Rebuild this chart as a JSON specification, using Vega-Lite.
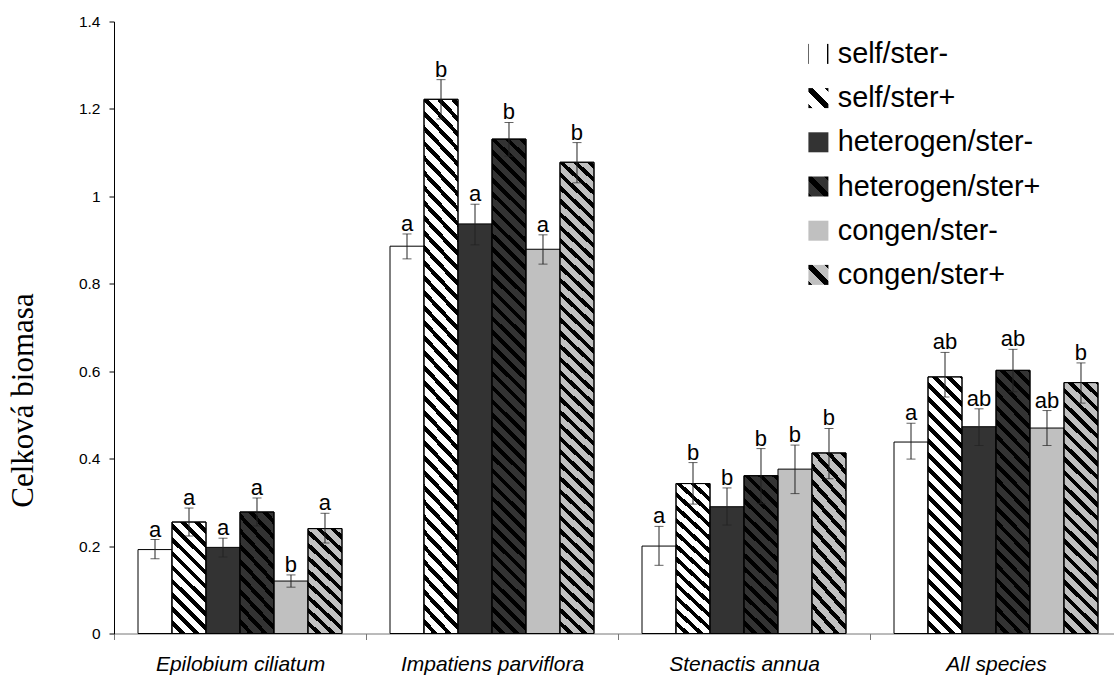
{
  "$schema": "https://vega.github.io/schema/vega-lite/v6.json",
  "width": 1000,
  "height": 612,
  "autosize": {"type": "none"},
  "padding": {"left": 114, "top": 21.5, "right": 0, "bottom": 41.5},
  "background": "white",
  "config": {"font": "Liberation Sans", "view": {"stroke": null}},
  "data": {"values": [
    {"species": "Epilobium ciliatum", "treatment": "self/ster-", "value": 0.192, "lo": 0.171, "hi": 0.215, "sig": "a"},
    {"species": "Epilobium ciliatum", "treatment": "self/ster+", "value": 0.255, "lo": 0.223, "hi": 0.287, "sig": "a"},
    {"species": "Epilobium ciliatum", "treatment": "heterogen/ster-", "value": 0.197, "lo": 0.175, "hi": 0.218, "sig": "a"},
    {"species": "Epilobium ciliatum", "treatment": "heterogen/ster+", "value": 0.278, "lo": 0.246, "hi": 0.310, "sig": "a"},
    {"species": "Epilobium ciliatum", "treatment": "congen/ster-", "value": 0.120, "lo": 0.106, "hi": 0.134, "sig": "b"},
    {"species": "Epilobium ciliatum", "treatment": "congen/ster+", "value": 0.240, "lo": 0.207, "hi": 0.275, "sig": "a"},
    {"species": "Impatiens parviflora", "treatment": "self/ster-", "value": 0.886, "lo": 0.857, "hi": 0.914, "sig": "a"},
    {"species": "Impatiens parviflora", "treatment": "self/ster+", "value": 1.222, "lo": 1.177, "hi": 1.267, "sig": "b"},
    {"species": "Impatiens parviflora", "treatment": "heterogen/ster-", "value": 0.937, "lo": 0.889, "hi": 0.982, "sig": "a"},
    {"species": "Impatiens parviflora", "treatment": "heterogen/ster+", "value": 1.131, "lo": 1.092, "hi": 1.169, "sig": "b"},
    {"species": "Impatiens parviflora", "treatment": "congen/ster-", "value": 0.879, "lo": 0.845, "hi": 0.912, "sig": "a"},
    {"species": "Impatiens parviflora", "treatment": "congen/ster+", "value": 1.078, "lo": 1.031, "hi": 1.123, "sig": "b"},
    {"species": "Stenactis annua", "treatment": "self/ster-", "value": 0.200, "lo": 0.156, "hi": 0.245, "sig": "a"},
    {"species": "Stenactis annua", "treatment": "self/ster+", "value": 0.343, "lo": 0.296, "hi": 0.391, "sig": "b"},
    {"species": "Stenactis annua", "treatment": "heterogen/ster-", "value": 0.290, "lo": 0.248, "hi": 0.333, "sig": "b"},
    {"species": "Stenactis annua", "treatment": "heterogen/ster+", "value": 0.361, "lo": 0.297, "hi": 0.423, "sig": "b"},
    {"species": "Stenactis annua", "treatment": "congen/ster-", "value": 0.376, "lo": 0.320, "hi": 0.431, "sig": "b"},
    {"species": "Stenactis annua", "treatment": "congen/ster+", "value": 0.413, "lo": 0.354, "hi": 0.469, "sig": "b"},
    {"species": "All species", "treatment": "self/ster-", "value": 0.438, "lo": 0.399, "hi": 0.481, "sig": "a"},
    {"species": "All species", "treatment": "self/ster+", "value": 0.587, "lo": 0.541, "hi": 0.643, "sig": "ab"},
    {"species": "All species", "treatment": "heterogen/ster-", "value": 0.473, "lo": 0.430, "hi": 0.514, "sig": "ab"},
    {"species": "All species", "treatment": "heterogen/ster+", "value": 0.602, "lo": 0.553, "hi": 0.650, "sig": "ab"},
    {"species": "All species", "treatment": "congen/ster-", "value": 0.470, "lo": 0.430, "hi": 0.510, "sig": "ab"},
    {"species": "All species", "treatment": "congen/ster+", "value": 0.574, "lo": 0.527, "hi": 0.619, "sig": "b"}
  ]},
  "encoding": {
    "x": {
      "field": "species", "type": "nominal",
      "sort": ["Epilobium ciliatum", "Impatiens parviflora", "Stenactis annua", "All species"],
      "scale": {"type": "band", "domain": ["Epilobium ciliatum", "Impatiens parviflora", "Stenactis annua", "All species"], "range": [0, 1008], "paddingInner": 0, "paddingOuter": 0},
      "axis": {"title": null, "tickBand": "extent", "tickSize": 6, "labelPadding": 14, "labelFontSize": 21, "labelFontStyle": "italic", "labelFont": "Liberation Sans", "labelColor": "#000", "labelAngle": 0, "labelLimit": 500, "domainColor": "#777", "tickColor": "#777", "grid": false}
    },
    "xOffset": {
      "field": "treatment", "type": "nominal", "sort": null,
      "scale": {"type": "band", "domain": ["self/ster-", "self/ster+", "heterogen/ster-", "heterogen/ster+", "congen/ster-", "congen/ster+"], "paddingInner": 0, "paddingOuter": 0.706}
    }
  },
  "layer": [
    {
      "mark": {"type": "bar", "stroke": "#000", "strokeWidth": 1},
      "encoding": {
        "y": {"field": "value", "type": "quantitative",
          "scale": {"domain": [0, 1.4], "nice": false, "zero": true},
          "axis": {"values": [0, 0.2, 0.4, 0.6, 0.8, 1, 1.2, 1.4], "format": "~g", "tickSize": 5, "labelPadding": 9, "labelFontSize": 15.5, "labelFont": "Liberation Sans", "labelColor": "#000", "domainColor": "#000", "tickColor": "#000", "grid": false,
            "title": "Celková biomasa", "titleFont": "Liberation Serif", "titleFontSize": 31, "titleFontWeight": "normal", "titleColor": "#000", "titleAngle": 270, "titleAlign": "center", "titleBaseline": "alphabetic", "titleX": -81.5, "titleY": 378.5}},
        "fill": {"field": "treatment", "type": "nominal", "legend": null,
          "scale": {"domain": ["congen/ster+", "congen/ster-", "heterogen/ster+", "heterogen/ster-", "self/ster+", "self/ster-"], "range": ["#c0c0c0", "#c0c0c0", "#333333", "#333333", "#ffffff", "#ffffff"]}}
      }
    },
    {
      "mark": {"type": "point", "filled": true, "opacity": 0, "stroke": "#000", "strokeWidth": 1,
        "fill": {"expr": "datum.value === 'self/ster+' ? {gradient: 'linear', x1: 0, y1: 1, x2: 1, y2: 0, stops: [{offset: 0, color: '#000'}, {offset: 0.1, color: '#000'}, {offset: 0.1, color: '#fff'}, {offset: 0.4, color: '#fff'}, {offset: 0.4, color: '#000'}, {offset: 0.6, color: '#000'}, {offset: 0.6, color: '#fff'}, {offset: 0.9, color: '#fff'}, {offset: 0.9, color: '#000'}, {offset: 1, color: '#000'}]} : datum.value === 'heterogen/ster+' ? {gradient: 'linear', x1: 0, y1: 1, x2: 1, y2: 0, stops: [{offset: 0, color: '#000'}, {offset: 0.1, color: '#000'}, {offset: 0.1, color: '#333'}, {offset: 0.4, color: '#333'}, {offset: 0.4, color: '#000'}, {offset: 0.6, color: '#000'}, {offset: 0.6, color: '#333'}, {offset: 0.9, color: '#333'}, {offset: 0.9, color: '#000'}, {offset: 1, color: '#000'}]} : datum.value === 'congen/ster+' ? {gradient: 'linear', x1: 0, y1: 1, x2: 1, y2: 0, stops: [{offset: 0, color: '#000'}, {offset: 0.1, color: '#000'}, {offset: 0.1, color: '#c0c0c0'}, {offset: 0.4, color: '#c0c0c0'}, {offset: 0.4, color: '#000'}, {offset: 0.6, color: '#000'}, {offset: 0.6, color: '#c0c0c0'}, {offset: 0.9, color: '#c0c0c0'}, {offset: 0.9, color: '#000'}, {offset: 1, color: '#000'}]} : datum.value === 'self/ster-' ? {gradient: 'linear', x1: 0, y1: 0, x2: 1, y2: 0.0001, stops: [{offset: 0, color: '#000'}, {offset: 0.05, color: '#000'}, {offset: 0.05, color: '#fff'}, {offset: 0.95, color: '#fff'}, {offset: 0.95, color: '#000'}, {offset: 1, color: '#000'}]} : datum.value === 'heterogen/ster-' ? '#333333' : '#c0c0c0'"}},
      "encoding": {
        "y": {"field": "value", "type": "quantitative"},
        "shape": {"field": "treatment", "type": "nominal",
          "scale": {"domain": ["self/ster-", "self/ster+", "heterogen/ster-", "heterogen/ster+", "congen/ster-", "congen/ster+"], "range": ["square", "square", "square", "square", "square", "square"]},
          "legend": {"title": null, "orient": "none", "legendX": 690, "legendY": 18, "padding": 0, "symbolType": "square", "symbolSize": 400, "symbolStrokeColor": "#000", "symbolStrokeWidth": 1, "symbolOpacity": 1, "labelFontSize": 28.8, "labelFont": "Liberation Sans", "labelColor": "#000", "labelOffset": 5, "rowPadding": 14.2, "labelLimit": 400,
            "encode": {"symbols": {"stroke": {"value": "#000"}, "strokeWidth": {"value": 1}}}}
        }
      }
    },
    {
      "transform": [{"filter": {"and": [{"field": "species", "equal": "Epilobium ciliatum"}, {"field": "treatment", "oneOf": ["self/ster+", "heterogen/ster+", "congen/ster+"]}]}}],
      "mark": {"type": "bar", "stroke": "#000", "strokeWidth": 1, "fill": {"gradient": "linear", "x1": 0, "y1": 1, "x2": 0.4125, "y2": -0.3668, "stops": [
        {"offset": 0.05, "color": "transparent"}, {"offset": 0.05, "color": "#000"}, {"offset": 0.0833, "color": "#000"},
        {"offset": 0.0833, "color": "transparent"}, {"offset": 0.1333, "color": "transparent"}, {"offset": 0.1333, "color": "#000"}, {"offset": 0.1667, "color": "#000"},
        {"offset": 0.1667, "color": "transparent"}, {"offset": 0.2167, "color": "transparent"}, {"offset": 0.2167, "color": "#000"}, {"offset": 0.25, "color": "#000"},
        {"offset": 0.25, "color": "transparent"}, {"offset": 0.3, "color": "transparent"}, {"offset": 0.3, "color": "#000"}, {"offset": 0.3333, "color": "#000"},
        {"offset": 0.3333, "color": "transparent"}, {"offset": 0.3833, "color": "transparent"}, {"offset": 0.3833, "color": "#000"}, {"offset": 0.4167, "color": "#000"},
        {"offset": 0.4167, "color": "transparent"}, {"offset": 0.4667, "color": "transparent"}, {"offset": 0.4667, "color": "#000"}, {"offset": 0.5, "color": "#000"},
        {"offset": 0.5, "color": "transparent"}, {"offset": 0.55, "color": "transparent"}, {"offset": 0.55, "color": "#000"}, {"offset": 0.5833, "color": "#000"},
        {"offset": 0.5833, "color": "transparent"}, {"offset": 0.6333, "color": "transparent"}, {"offset": 0.6333, "color": "#000"}, {"offset": 0.6667, "color": "#000"},
        {"offset": 0.6667, "color": "transparent"}, {"offset": 0.7167, "color": "transparent"}, {"offset": 0.7167, "color": "#000"}, {"offset": 0.75, "color": "#000"},
        {"offset": 0.75, "color": "transparent"}, {"offset": 0.8, "color": "transparent"}, {"offset": 0.8, "color": "#000"}, {"offset": 0.8333, "color": "#000"},
        {"offset": 0.8333, "color": "transparent"}, {"offset": 0.8833, "color": "transparent"}, {"offset": 0.8833, "color": "#000"}, {"offset": 0.9167, "color": "#000"},
        {"offset": 0.9167, "color": "transparent"}, {"offset": 0.9667, "color": "transparent"}, {"offset": 0.9667, "color": "#000"}, {"offset": 1, "color": "#000"}
      ]}},
      "encoding": {"y": {"field": "value", "type": "quantitative"}}
    },
    {
      "transform": [{"filter": {"and": [{"field": "species", "equal": "Impatiens parviflora"}, {"field": "treatment", "oneOf": ["self/ster+", "heterogen/ster+", "congen/ster+"]}]}}],
      "mark": {"type": "bar", "stroke": "#000", "strokeWidth": 1, "fill": {"gradient": "linear", "x1": 0, "y1": 1, "x2": 0.07581, "y2": -0.11485, "stops": [
        {"offset": 0.015, "color": "transparent"}, {"offset": 0.015, "color": "#000"}, {"offset": 0.025, "color": "#000"},
        {"offset": 0.025, "color": "transparent"}, {"offset": 0.04, "color": "transparent"}, {"offset": 0.04, "color": "#000"}, {"offset": 0.05, "color": "#000"},
        {"offset": 0.05, "color": "transparent"}, {"offset": 0.065, "color": "transparent"}, {"offset": 0.065, "color": "#000"}, {"offset": 0.075, "color": "#000"},
        {"offset": 0.075, "color": "transparent"}, {"offset": 0.09, "color": "transparent"}, {"offset": 0.09, "color": "#000"}, {"offset": 0.1, "color": "#000"},
        {"offset": 0.1, "color": "transparent"}, {"offset": 0.115, "color": "transparent"}, {"offset": 0.115, "color": "#000"}, {"offset": 0.125, "color": "#000"},
        {"offset": 0.125, "color": "transparent"}, {"offset": 0.14, "color": "transparent"}, {"offset": 0.14, "color": "#000"}, {"offset": 0.15, "color": "#000"},
        {"offset": 0.15, "color": "transparent"}, {"offset": 0.165, "color": "transparent"}, {"offset": 0.165, "color": "#000"}, {"offset": 0.175, "color": "#000"},
        {"offset": 0.175, "color": "transparent"}, {"offset": 0.19, "color": "transparent"}, {"offset": 0.19, "color": "#000"}, {"offset": 0.2, "color": "#000"},
        {"offset": 0.2, "color": "transparent"}, {"offset": 0.215, "color": "transparent"}, {"offset": 0.215, "color": "#000"}, {"offset": 0.225, "color": "#000"},
        {"offset": 0.225, "color": "transparent"}, {"offset": 0.24, "color": "transparent"}, {"offset": 0.24, "color": "#000"}, {"offset": 0.25, "color": "#000"},
        {"offset": 0.25, "color": "transparent"}, {"offset": 0.265, "color": "transparent"}, {"offset": 0.265, "color": "#000"}, {"offset": 0.275, "color": "#000"},
        {"offset": 0.275, "color": "transparent"}, {"offset": 0.29, "color": "transparent"}, {"offset": 0.29, "color": "#000"}, {"offset": 0.3, "color": "#000"},
        {"offset": 0.3, "color": "transparent"}, {"offset": 0.315, "color": "transparent"}, {"offset": 0.315, "color": "#000"}, {"offset": 0.325, "color": "#000"},
        {"offset": 0.325, "color": "transparent"}, {"offset": 0.34, "color": "transparent"}, {"offset": 0.34, "color": "#000"}, {"offset": 0.35, "color": "#000"},
        {"offset": 0.35, "color": "transparent"}, {"offset": 0.365, "color": "transparent"}, {"offset": 0.365, "color": "#000"}, {"offset": 0.375, "color": "#000"},
        {"offset": 0.375, "color": "transparent"}, {"offset": 0.39, "color": "transparent"}, {"offset": 0.39, "color": "#000"}, {"offset": 0.4, "color": "#000"},
        {"offset": 0.4, "color": "transparent"}, {"offset": 0.415, "color": "transparent"}, {"offset": 0.415, "color": "#000"}, {"offset": 0.425, "color": "#000"},
        {"offset": 0.425, "color": "transparent"}, {"offset": 0.44, "color": "transparent"}, {"offset": 0.44, "color": "#000"}, {"offset": 0.45, "color": "#000"},
        {"offset": 0.45, "color": "transparent"}, {"offset": 0.465, "color": "transparent"}, {"offset": 0.465, "color": "#000"}, {"offset": 0.475, "color": "#000"},
        {"offset": 0.475, "color": "transparent"}, {"offset": 0.49, "color": "transparent"}, {"offset": 0.49, "color": "#000"}, {"offset": 0.5, "color": "#000"},
        {"offset": 0.5, "color": "transparent"}, {"offset": 0.515, "color": "transparent"}, {"offset": 0.515, "color": "#000"}, {"offset": 0.525, "color": "#000"},
        {"offset": 0.525, "color": "transparent"}, {"offset": 0.54, "color": "transparent"}, {"offset": 0.54, "color": "#000"}, {"offset": 0.55, "color": "#000"},
        {"offset": 0.55, "color": "transparent"}, {"offset": 0.565, "color": "transparent"}, {"offset": 0.565, "color": "#000"}, {"offset": 0.575, "color": "#000"},
        {"offset": 0.575, "color": "transparent"}, {"offset": 0.59, "color": "transparent"}, {"offset": 0.59, "color": "#000"}, {"offset": 0.6, "color": "#000"},
        {"offset": 0.6, "color": "transparent"}, {"offset": 0.615, "color": "transparent"}, {"offset": 0.615, "color": "#000"}, {"offset": 0.625, "color": "#000"},
        {"offset": 0.625, "color": "transparent"}, {"offset": 0.64, "color": "transparent"}, {"offset": 0.64, "color": "#000"}, {"offset": 0.65, "color": "#000"},
        {"offset": 0.65, "color": "transparent"}, {"offset": 0.665, "color": "transparent"}, {"offset": 0.665, "color": "#000"}, {"offset": 0.675, "color": "#000"},
        {"offset": 0.675, "color": "transparent"}, {"offset": 0.69, "color": "transparent"}, {"offset": 0.69, "color": "#000"}, {"offset": 0.7, "color": "#000"},
        {"offset": 0.7, "color": "transparent"}, {"offset": 0.715, "color": "transparent"}, {"offset": 0.715, "color": "#000"}, {"offset": 0.725, "color": "#000"},
        {"offset": 0.725, "color": "transparent"}, {"offset": 0.74, "color": "transparent"}, {"offset": 0.74, "color": "#000"}, {"offset": 0.75, "color": "#000"},
        {"offset": 0.75, "color": "transparent"}, {"offset": 0.765, "color": "transparent"}, {"offset": 0.765, "color": "#000"}, {"offset": 0.775, "color": "#000"},
        {"offset": 0.775, "color": "transparent"}, {"offset": 0.79, "color": "transparent"}, {"offset": 0.79, "color": "#000"}, {"offset": 0.8, "color": "#000"},
        {"offset": 0.8, "color": "transparent"}, {"offset": 0.815, "color": "transparent"}, {"offset": 0.815, "color": "#000"}, {"offset": 0.825, "color": "#000"},
        {"offset": 0.825, "color": "transparent"}, {"offset": 0.84, "color": "transparent"}, {"offset": 0.84, "color": "#000"}, {"offset": 0.85, "color": "#000"},
        {"offset": 0.85, "color": "transparent"}, {"offset": 0.865, "color": "transparent"}, {"offset": 0.865, "color": "#000"}, {"offset": 0.875, "color": "#000"},
        {"offset": 0.875, "color": "transparent"}, {"offset": 0.89, "color": "transparent"}, {"offset": 0.89, "color": "#000"}, {"offset": 0.9, "color": "#000"},
        {"offset": 0.9, "color": "transparent"}, {"offset": 0.915, "color": "transparent"}, {"offset": 0.915, "color": "#000"}, {"offset": 0.925, "color": "#000"},
        {"offset": 0.925, "color": "transparent"}, {"offset": 0.94, "color": "transparent"}, {"offset": 0.94, "color": "#000"}, {"offset": 0.95, "color": "#000"},
        {"offset": 0.95, "color": "transparent"}, {"offset": 0.965, "color": "transparent"}, {"offset": 0.965, "color": "#000"}, {"offset": 0.975, "color": "#000"},
        {"offset": 0.975, "color": "transparent"}
      ]}},
      "encoding": {"y": {"field": "value", "type": "quantitative"}}
    },
    {
      "transform": [{"filter": {"and": [{"field": "species", "equal": "Stenactis annua"}, {"field": "treatment", "oneOf": ["self/ster+", "heterogen/ster+", "congen/ster+"]}]}}],
      "mark": {"type": "bar", "stroke": "#000", "strokeWidth": 1, "fill": {"gradient": "linear", "x1": 0, "y1": 1, "x2": 0.2755, "y2": -0.3188, "stops": [
        {"offset": 0.0375, "color": "transparent"}, {"offset": 0.0375, "color": "#000"}, {"offset": 0.0625, "color": "#000"},
        {"offset": 0.0625, "color": "transparent"}, {"offset": 0.1, "color": "transparent"}, {"offset": 0.1, "color": "#000"}, {"offset": 0.125, "color": "#000"},
        {"offset": 0.125, "color": "transparent"}, {"offset": 0.1625, "color": "transparent"}, {"offset": 0.1625, "color": "#000"}, {"offset": 0.1875, "color": "#000"},
        {"offset": 0.1875, "color": "transparent"}, {"offset": 0.225, "color": "transparent"}, {"offset": 0.225, "color": "#000"}, {"offset": 0.25, "color": "#000"},
        {"offset": 0.25, "color": "transparent"}, {"offset": 0.2875, "color": "transparent"}, {"offset": 0.2875, "color": "#000"}, {"offset": 0.3125, "color": "#000"},
        {"offset": 0.3125, "color": "transparent"}, {"offset": 0.35, "color": "transparent"}, {"offset": 0.35, "color": "#000"}, {"offset": 0.375, "color": "#000"},
        {"offset": 0.375, "color": "transparent"}, {"offset": 0.4125, "color": "transparent"}, {"offset": 0.4125, "color": "#000"}, {"offset": 0.4375, "color": "#000"},
        {"offset": 0.4375, "color": "transparent"}, {"offset": 0.475, "color": "transparent"}, {"offset": 0.475, "color": "#000"}, {"offset": 0.5, "color": "#000"},
        {"offset": 0.5, "color": "transparent"}, {"offset": 0.5375, "color": "transparent"}, {"offset": 0.5375, "color": "#000"}, {"offset": 0.5625, "color": "#000"},
        {"offset": 0.5625, "color": "transparent"}, {"offset": 0.6, "color": "transparent"}, {"offset": 0.6, "color": "#000"}, {"offset": 0.625, "color": "#000"},
        {"offset": 0.625, "color": "transparent"}, {"offset": 0.6625, "color": "transparent"}, {"offset": 0.6625, "color": "#000"}, {"offset": 0.6875, "color": "#000"},
        {"offset": 0.6875, "color": "transparent"}, {"offset": 0.725, "color": "transparent"}, {"offset": 0.725, "color": "#000"}, {"offset": 0.75, "color": "#000"},
        {"offset": 0.75, "color": "transparent"}, {"offset": 0.7875, "color": "transparent"}, {"offset": 0.7875, "color": "#000"}, {"offset": 0.8125, "color": "#000"},
        {"offset": 0.8125, "color": "transparent"}, {"offset": 0.85, "color": "transparent"}, {"offset": 0.85, "color": "#000"}, {"offset": 0.875, "color": "#000"},
        {"offset": 0.875, "color": "transparent"}, {"offset": 0.9125, "color": "transparent"}, {"offset": 0.9125, "color": "#000"}, {"offset": 0.9375, "color": "#000"},
        {"offset": 0.9375, "color": "transparent"}
      ]}},
      "encoding": {"y": {"field": "value", "type": "quantitative"}}
    },
    {
      "transform": [{"filter": {"and": [{"field": "species", "equal": "All species"}, {"field": "treatment", "oneOf": ["self/ster+", "heterogen/ster+", "congen/ster+"]}]}}],
      "mark": {"type": "bar", "stroke": "#000", "strokeWidth": 1, "fill": {"gradient": "linear", "x1": 0, "y1": 1, "x2": 0.17701, "y2": -0.3382, "stops": [
        {"offset": 0.024, "color": "transparent"}, {"offset": 0.024, "color": "#000"}, {"offset": 0.04, "color": "#000"},
        {"offset": 0.04, "color": "transparent"}, {"offset": 0.064, "color": "transparent"}, {"offset": 0.064, "color": "#000"}, {"offset": 0.08, "color": "#000"},
        {"offset": 0.08, "color": "transparent"}, {"offset": 0.104, "color": "transparent"}, {"offset": 0.104, "color": "#000"}, {"offset": 0.12, "color": "#000"},
        {"offset": 0.12, "color": "transparent"}, {"offset": 0.144, "color": "transparent"}, {"offset": 0.144, "color": "#000"}, {"offset": 0.16, "color": "#000"},
        {"offset": 0.16, "color": "transparent"}, {"offset": 0.184, "color": "transparent"}, {"offset": 0.184, "color": "#000"}, {"offset": 0.2, "color": "#000"},
        {"offset": 0.2, "color": "transparent"}, {"offset": 0.224, "color": "transparent"}, {"offset": 0.224, "color": "#000"}, {"offset": 0.24, "color": "#000"},
        {"offset": 0.24, "color": "transparent"}, {"offset": 0.264, "color": "transparent"}, {"offset": 0.264, "color": "#000"}, {"offset": 0.28, "color": "#000"},
        {"offset": 0.28, "color": "transparent"}, {"offset": 0.304, "color": "transparent"}, {"offset": 0.304, "color": "#000"}, {"offset": 0.32, "color": "#000"},
        {"offset": 0.32, "color": "transparent"}, {"offset": 0.344, "color": "transparent"}, {"offset": 0.344, "color": "#000"}, {"offset": 0.36, "color": "#000"},
        {"offset": 0.36, "color": "transparent"}, {"offset": 0.384, "color": "transparent"}, {"offset": 0.384, "color": "#000"}, {"offset": 0.4, "color": "#000"},
        {"offset": 0.4, "color": "transparent"}, {"offset": 0.424, "color": "transparent"}, {"offset": 0.424, "color": "#000"}, {"offset": 0.44, "color": "#000"},
        {"offset": 0.44, "color": "transparent"}, {"offset": 0.464, "color": "transparent"}, {"offset": 0.464, "color": "#000"}, {"offset": 0.48, "color": "#000"},
        {"offset": 0.48, "color": "transparent"}, {"offset": 0.504, "color": "transparent"}, {"offset": 0.504, "color": "#000"}, {"offset": 0.52, "color": "#000"},
        {"offset": 0.52, "color": "transparent"}, {"offset": 0.544, "color": "transparent"}, {"offset": 0.544, "color": "#000"}, {"offset": 0.56, "color": "#000"},
        {"offset": 0.56, "color": "transparent"}, {"offset": 0.584, "color": "transparent"}, {"offset": 0.584, "color": "#000"}, {"offset": 0.6, "color": "#000"},
        {"offset": 0.6, "color": "transparent"}, {"offset": 0.624, "color": "transparent"}, {"offset": 0.624, "color": "#000"}, {"offset": 0.64, "color": "#000"},
        {"offset": 0.64, "color": "transparent"}, {"offset": 0.664, "color": "transparent"}, {"offset": 0.664, "color": "#000"}, {"offset": 0.68, "color": "#000"},
        {"offset": 0.68, "color": "transparent"}, {"offset": 0.704, "color": "transparent"}, {"offset": 0.704, "color": "#000"}, {"offset": 0.72, "color": "#000"},
        {"offset": 0.72, "color": "transparent"}, {"offset": 0.744, "color": "transparent"}, {"offset": 0.744, "color": "#000"}, {"offset": 0.76, "color": "#000"},
        {"offset": 0.76, "color": "transparent"}, {"offset": 0.784, "color": "transparent"}, {"offset": 0.784, "color": "#000"}, {"offset": 0.8, "color": "#000"},
        {"offset": 0.8, "color": "transparent"}, {"offset": 0.824, "color": "transparent"}, {"offset": 0.824, "color": "#000"}, {"offset": 0.84, "color": "#000"},
        {"offset": 0.84, "color": "transparent"}, {"offset": 0.864, "color": "transparent"}, {"offset": 0.864, "color": "#000"}, {"offset": 0.88, "color": "#000"},
        {"offset": 0.88, "color": "transparent"}
      ]}},
      "encoding": {"y": {"field": "value", "type": "quantitative"}}
    },
    {
      "mark": {"type": "rule", "color": "#222", "strokeWidth": 1},
      "encoding": {"y": {"field": "lo", "type": "quantitative"}, "y2": {"field": "hi"}}
    },
    {
      "mark": {"type": "tick", "color": "#222", "size": 9, "thickness": 1, "orient": "horizontal"},
      "encoding": {"y": {"field": "lo", "type": "quantitative"}}
    },
    {
      "mark": {"type": "tick", "color": "#222", "size": 9, "thickness": 1, "orient": "horizontal"},
      "encoding": {"y": {"field": "hi", "type": "quantitative"}}
    },
    {
      "mark": {"type": "text", "baseline": "alphabetic", "align": "center", "dy": -3, "fontSize": 22, "font": "Liberation Sans", "color": "#000"},
      "encoding": {"y": {"field": "hi", "type": "quantitative"}, "text": {"field": "sig"}}
    }
  ]
}
